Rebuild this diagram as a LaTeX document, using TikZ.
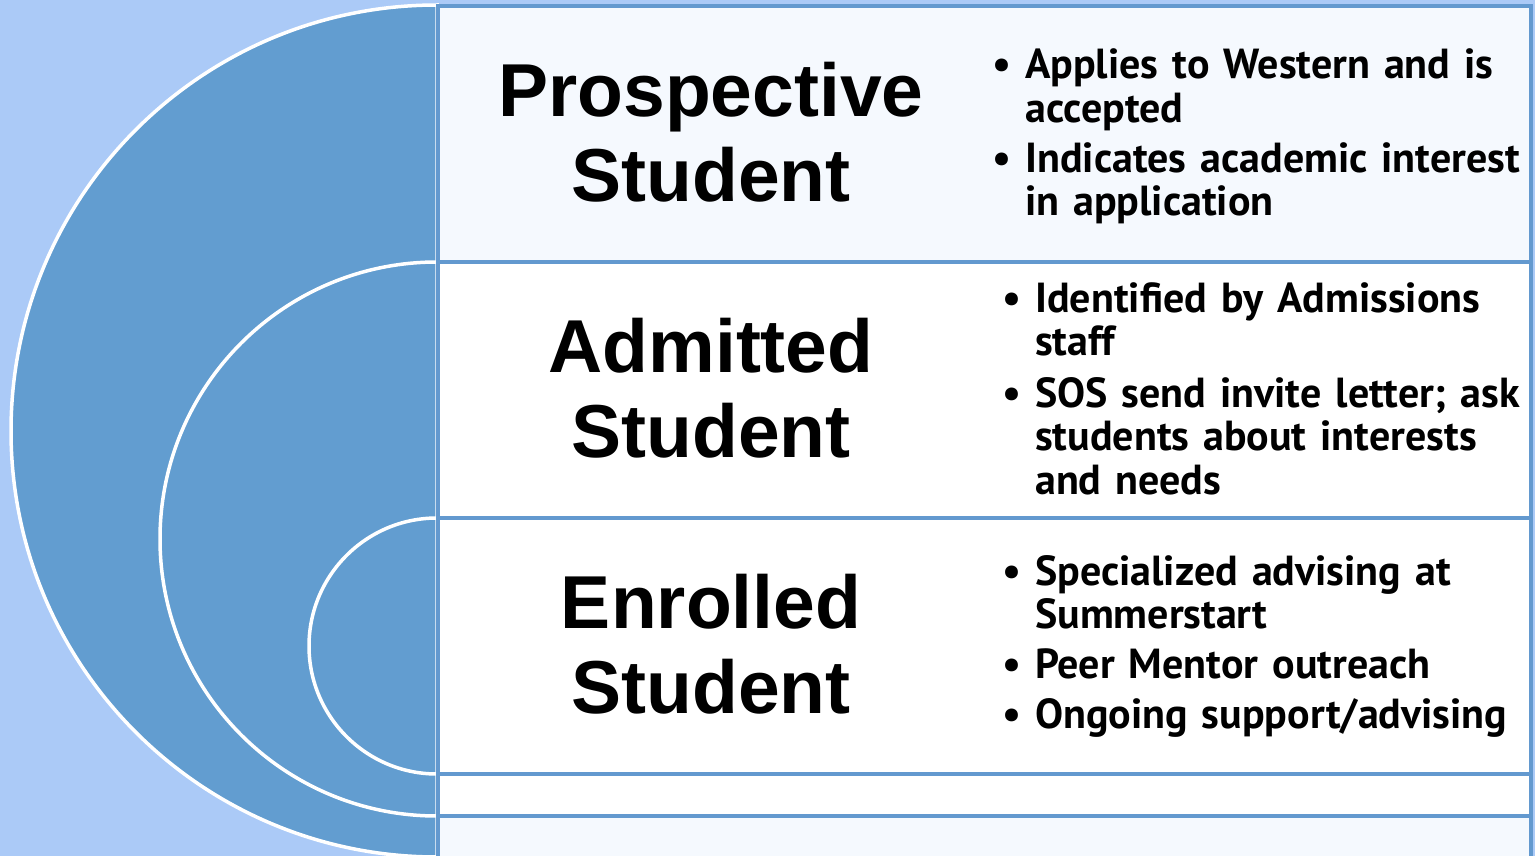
\documentclass[tikz,border=0pt]{standalone}
\usepackage{fontspec}
\setmainfont{PT Sans}
\newfontfamily\headfont{Liberation Sans}
\usetikzlibrary{positioning}

\definecolor{skyback}{HTML}{ABCAF7}
\definecolor{ringblue}{HTML}{629DD0}
\definecolor{edgeblue}{HTML}{6399CF}
\definecolor{paleblue}{HTML}{F5F9FE}

\tikzset{
	ring/.style = {fill=ringblue, draw=white, line width=3.5},
	band/.style = {draw=edgeblue, line width=4.5},
	title/.style = {font=\headfont\bfseries\fontsize{75}{85}\selectfont, align=center, inner sep=0pt},
	item/.style = {font=\bfseries\fontsize{42}{43.5}\selectfont, text width=580pt, align=left, inner sep=0pt},
	dot/.style = {font=\bfseries\fontsize{42}{43.5}\selectfont, anchor=base, inner sep=0pt},
}

\begin{document}
\begin{tikzpicture}[x=1pt, y=-1pt]
	\def\cx{437};
	\def\rx{1531};

	\useasboundingbox (0,0) rectangle (1535,856);
	\clip (0,0) rectangle (1535,856);
	\fill[skyback] (0,0) rectangle (1535,856);

	\filldraw[ring] (\cx,5) arc (270:90:426) -- cycle;
	\filldraw[ring] (\cx,262) arc (270:90:277) -- cycle;
	\filldraw[ring] (\cx,518) arc (270:90:128) -- cycle;

	\foreach \top/\bot/\shade in {6/262/paleblue, 262/518/white, 518/774/white, 774/816/white, 816/880/paleblue}
		\filldraw[band, fill=\shade] (\cx+1,\top) rectangle (\rx,\bot);

	\node[title] (pros) at (711,132) {Prospective\\Student};
	\node[title] (adm) at (711,388) {Admitted\\Student};
	\node[title] (enr) at (711,644) {Enrolled\\Student};

	\foreach \id/\bx/\by/\txt in {
		prosA/1002/79/{Applies to Western and is\\accepted},
		prosB/1002/172/{Indicates academic interest\\in application},
		admA/1012/312/{Identified by Admissions\\staff},
		admB/1012/407/{SOS send invite letter; ask\\students about interests\\and needs},
		enrA/1012/585/{Specialized advising at\\Summerstart},
		enrB/1012/678/{Peer Mentor outreach},
		enrC/1012/728/{Ongoing support/advising}
	}{
		\node[dot] (\id-dot) at (\bx,\by) {\textbullet};
		\node[item, right=23pt of \id-dot.base, anchor=base west] (\id) {\txt};
	}
\end{tikzpicture}
\end{document}
